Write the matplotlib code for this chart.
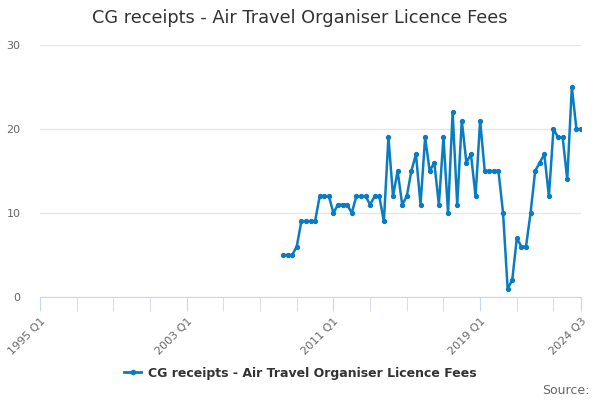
import matplotlib
matplotlib.use("Agg")
import matplotlib.pyplot as plt
import numpy as np

# quarters 1995 Q1 .. 2024 Q3
quarters = [f"{y} Q{q}" for y in range(1995, 2025) for q in range(1, 5)][:119]

# data starts 2008 Q2
start_label = "2008 Q2"
receipts = [5, 5, 5, 6, 9, 9, 9, 9, 12, 12, 12, 10, 11, 11, 11, 10,
            12, 12, 12, 11, 12, 12, 9, 19, 12, 15, 11, 12, 15, 17, 11, 19,
            15, 16, 11, 19, 10, 22, 11, 21, 16, 17, 12, 21, 15, 15, 15, 15,
            10, 1, 2, 7, 6, 6, 10, 15, 16, 17, 12, 20, 19, 19, 14, 25,
            20, 20]

tick_labels = ["1995 Q1", "2003 Q1", "2011 Q1", "2019 Q1", "2024 Q3"]

series_name = "CG receipts - Air Travel Organiser Licence Fees"
color = "#0a7cc1"

x_all = np.arange(len(quarters))
start = quarters.index(start_label)
x = x_all[start:start + len(receipts)]

fig = plt.figure(figsize=(6, 4), dpi=100)
ax = fig.add_axes([40 / 600, 1 - 297 / 400, 541 / 600, 252 / 400])

ax.plot(x, receipts, color=color, lw=1.8, marker="o", ms=2.8)

ax.set_xlim(0, len(quarters) - 1)
ax.set_ylim(0, 30)
ax.set_yticks([0, 10, 20, 30])
ax.grid(axis="y", color="#e6e6e6", lw=1)
ax.set_axisbelow(True)

for s in ["top", "right", "left"]:
    ax.spines[s].set_visible(False)
ax.spines["bottom"].set_color("#ccd6eb")

minor = list(range(0, len(quarters), 8)) + [len(quarters) - 1]
ax.set_xticks(minor, minor=True)
ax.tick_params(axis="x", which="minor", length=10, color="#ccd6eb", labelbottom=False)
major = [quarters.index(t) for t in tick_labels]
ax.set_xticks(major)
ax.set_xticklabels(tick_labels, rotation=45, ha="right", rotation_mode="anchor",
                   fontsize=8, color="#666666")
ax.tick_params(axis="x", which="major", length=10, color="#ccd6eb", pad=4)
ax.tick_params(axis="y", length=0, labelsize=8, labelcolor="#666666", pad=14)

fig.text(0.5, 1 - 18 / 400, series_name, ha="center", va="center",
         fontsize=12.8, color="#333333")

leg = fig.legend([plt.Line2D([], [], color=color, lw=2, marker="o", ms=3)],
                 [series_name], loc="center", bbox_to_anchor=(0.5, 1 - 373 / 400),
                 frameon=False, handlelength=1.4, handletextpad=0.5,
                 prop={"weight": "bold", "size": 9})
for t in leg.get_texts():
    t.set_color("#333333")

fig.text(0.982, 1 - 390 / 400, "Source:", ha="right", va="center",
         fontsize=9, color="#666666")

fig.savefig("out.png", dpi=100)
